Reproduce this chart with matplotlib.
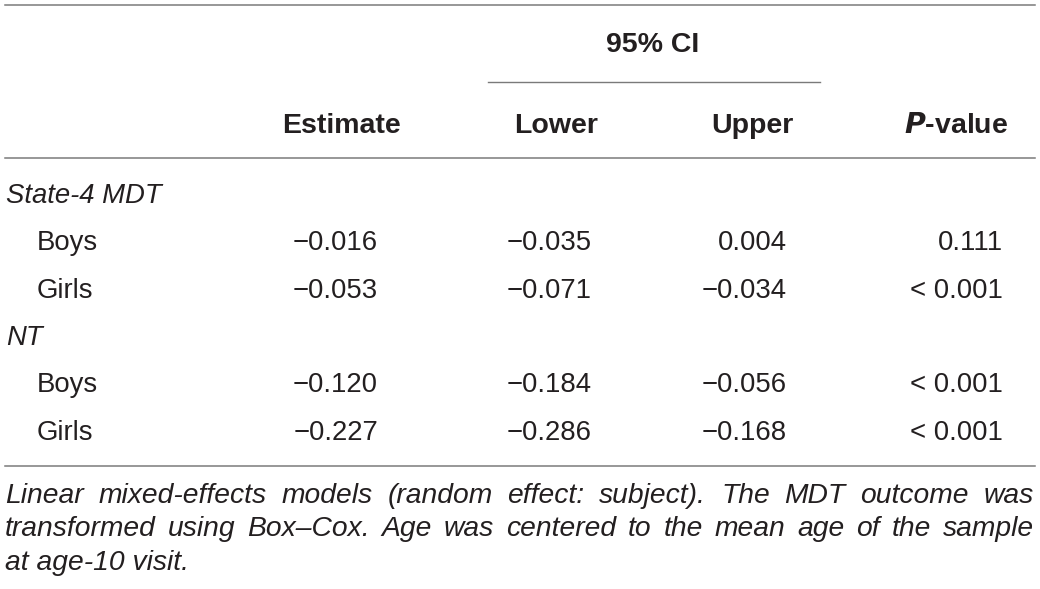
import matplotlib
matplotlib.use('Agg')
from matplotlib import pyplot as plt

groups = ['State-4 MDT', 'NT']
sexes = ['Boys', 'Girls']
estimate = [[-0.016, -0.053], [-0.120, -0.227]]
lower = [[-0.035, -0.071], [-0.184, -0.286]]
upper = [[0.004, -0.034], [-0.056, -0.168]]
p_values = [['0.111', '< 0.001'], ['< 0.001', '< 0.001']]
headers = ['Estimate', 'Lower', 'Upper']
ci_header = '95% CI'
foot_lines = ['Linear mixed-effects models (random effect: subject). The MDT outcome was',
              'transformed using Box\u2013Cox. Age was centered to the mean age of the sample',
              'at age-10 visit.']

plt.rcParams['font.family'] = ['Liberation Sans', 'DejaVu Sans']
plt.rcParams['mathtext.fontset'] = 'custom'
ink = '#231f20'
rule = '#7a7a7a'

W, H = 1040, 589
fig = plt.figure(figsize=(W / 100, H / 100), dpi=100)
ax = fig.add_axes([0, 0, 1, 1])
ax.set_xlim(0, W)
ax.set_ylim(H, 0)
ax.axis('off')


def fmt(v):
    return f'{v:.3f}'.replace('-', '\u2212')


# rules
ax.plot([5, 1035], [5, 5], color=rule, lw=1.1)
ax.plot([488, 820], [82, 82], color=rule, lw=1.0)
ax.plot([5, 1035], [158, 158], color=rule, lw=1.1)
ax.plot([5, 1035], [466, 466], color=rule, lw=1.1)

# headers
hsize = 20.5
ax.text(653, 52, ci_header, ha='center', va='baseline', fontsize=hsize,
        fontweight='bold', color=ink)
for x, h in zip([342, 556, 752], headers):
    ax.text(x, 133, h, ha='center', va='baseline', fontsize=hsize,
            fontweight='bold', color=ink)
ax.text(1008, 133, '$\\mathbfit{P}$-value', ha='right', va='baseline', fontsize=hsize,
        fontweight='bold', color=ink)

# body
dsize = 19.8
col_right = [378, 592, 787, 1003]
group_base = [203, 345]
row_step = 47.5
for g, name in enumerate(groups):
    y0 = group_base[g]
    ax.text(6, y0, name, ha='left', va='baseline', fontsize=dsize,
            style='italic', color=ink)
    for s, sex in enumerate(sexes):
        y = y0 + row_step * (s + 1)
        ax.text(37, y, sex, ha='left', va='baseline', fontsize=dsize, color=ink)
        vals = [fmt(estimate[g][s]), fmt(lower[g][s]), fmt(upper[g][s]), p_values[g][s]]
        for x, v in zip(col_right, vals):
            ax.text(x, y, v, ha='right', va='baseline', fontsize=dsize, color=ink)

# footnote, justified
fsize = 20.3
left, right = 5, 1034
foot_base = [503, 536, 570]
fig.canvas.draw()
r = fig.canvas.get_renderer()
for i, line in enumerate(foot_lines):
    words = line.split(' ')
    if i == len(foot_lines) - 1:
        ax.text(left, foot_base[i], line, ha='left', va='baseline', fontsize=fsize,
                style='italic', color=ink)
        continue
    widths = []
    for w in words:
        t = ax.text(0, 0, w, fontsize=fsize, style='italic')
        widths.append(t.get_window_extent(renderer=r).width)
        t.remove()
    gap = (right - left - sum(widths)) / (len(words) - 1)
    x = left
    for w, wd in zip(words, widths):
        ax.text(x, foot_base[i], w, ha='left', va='baseline', fontsize=fsize,
                style='italic', color=ink)
        x += wd + gap

fig.savefig('out.png', dpi=100)
